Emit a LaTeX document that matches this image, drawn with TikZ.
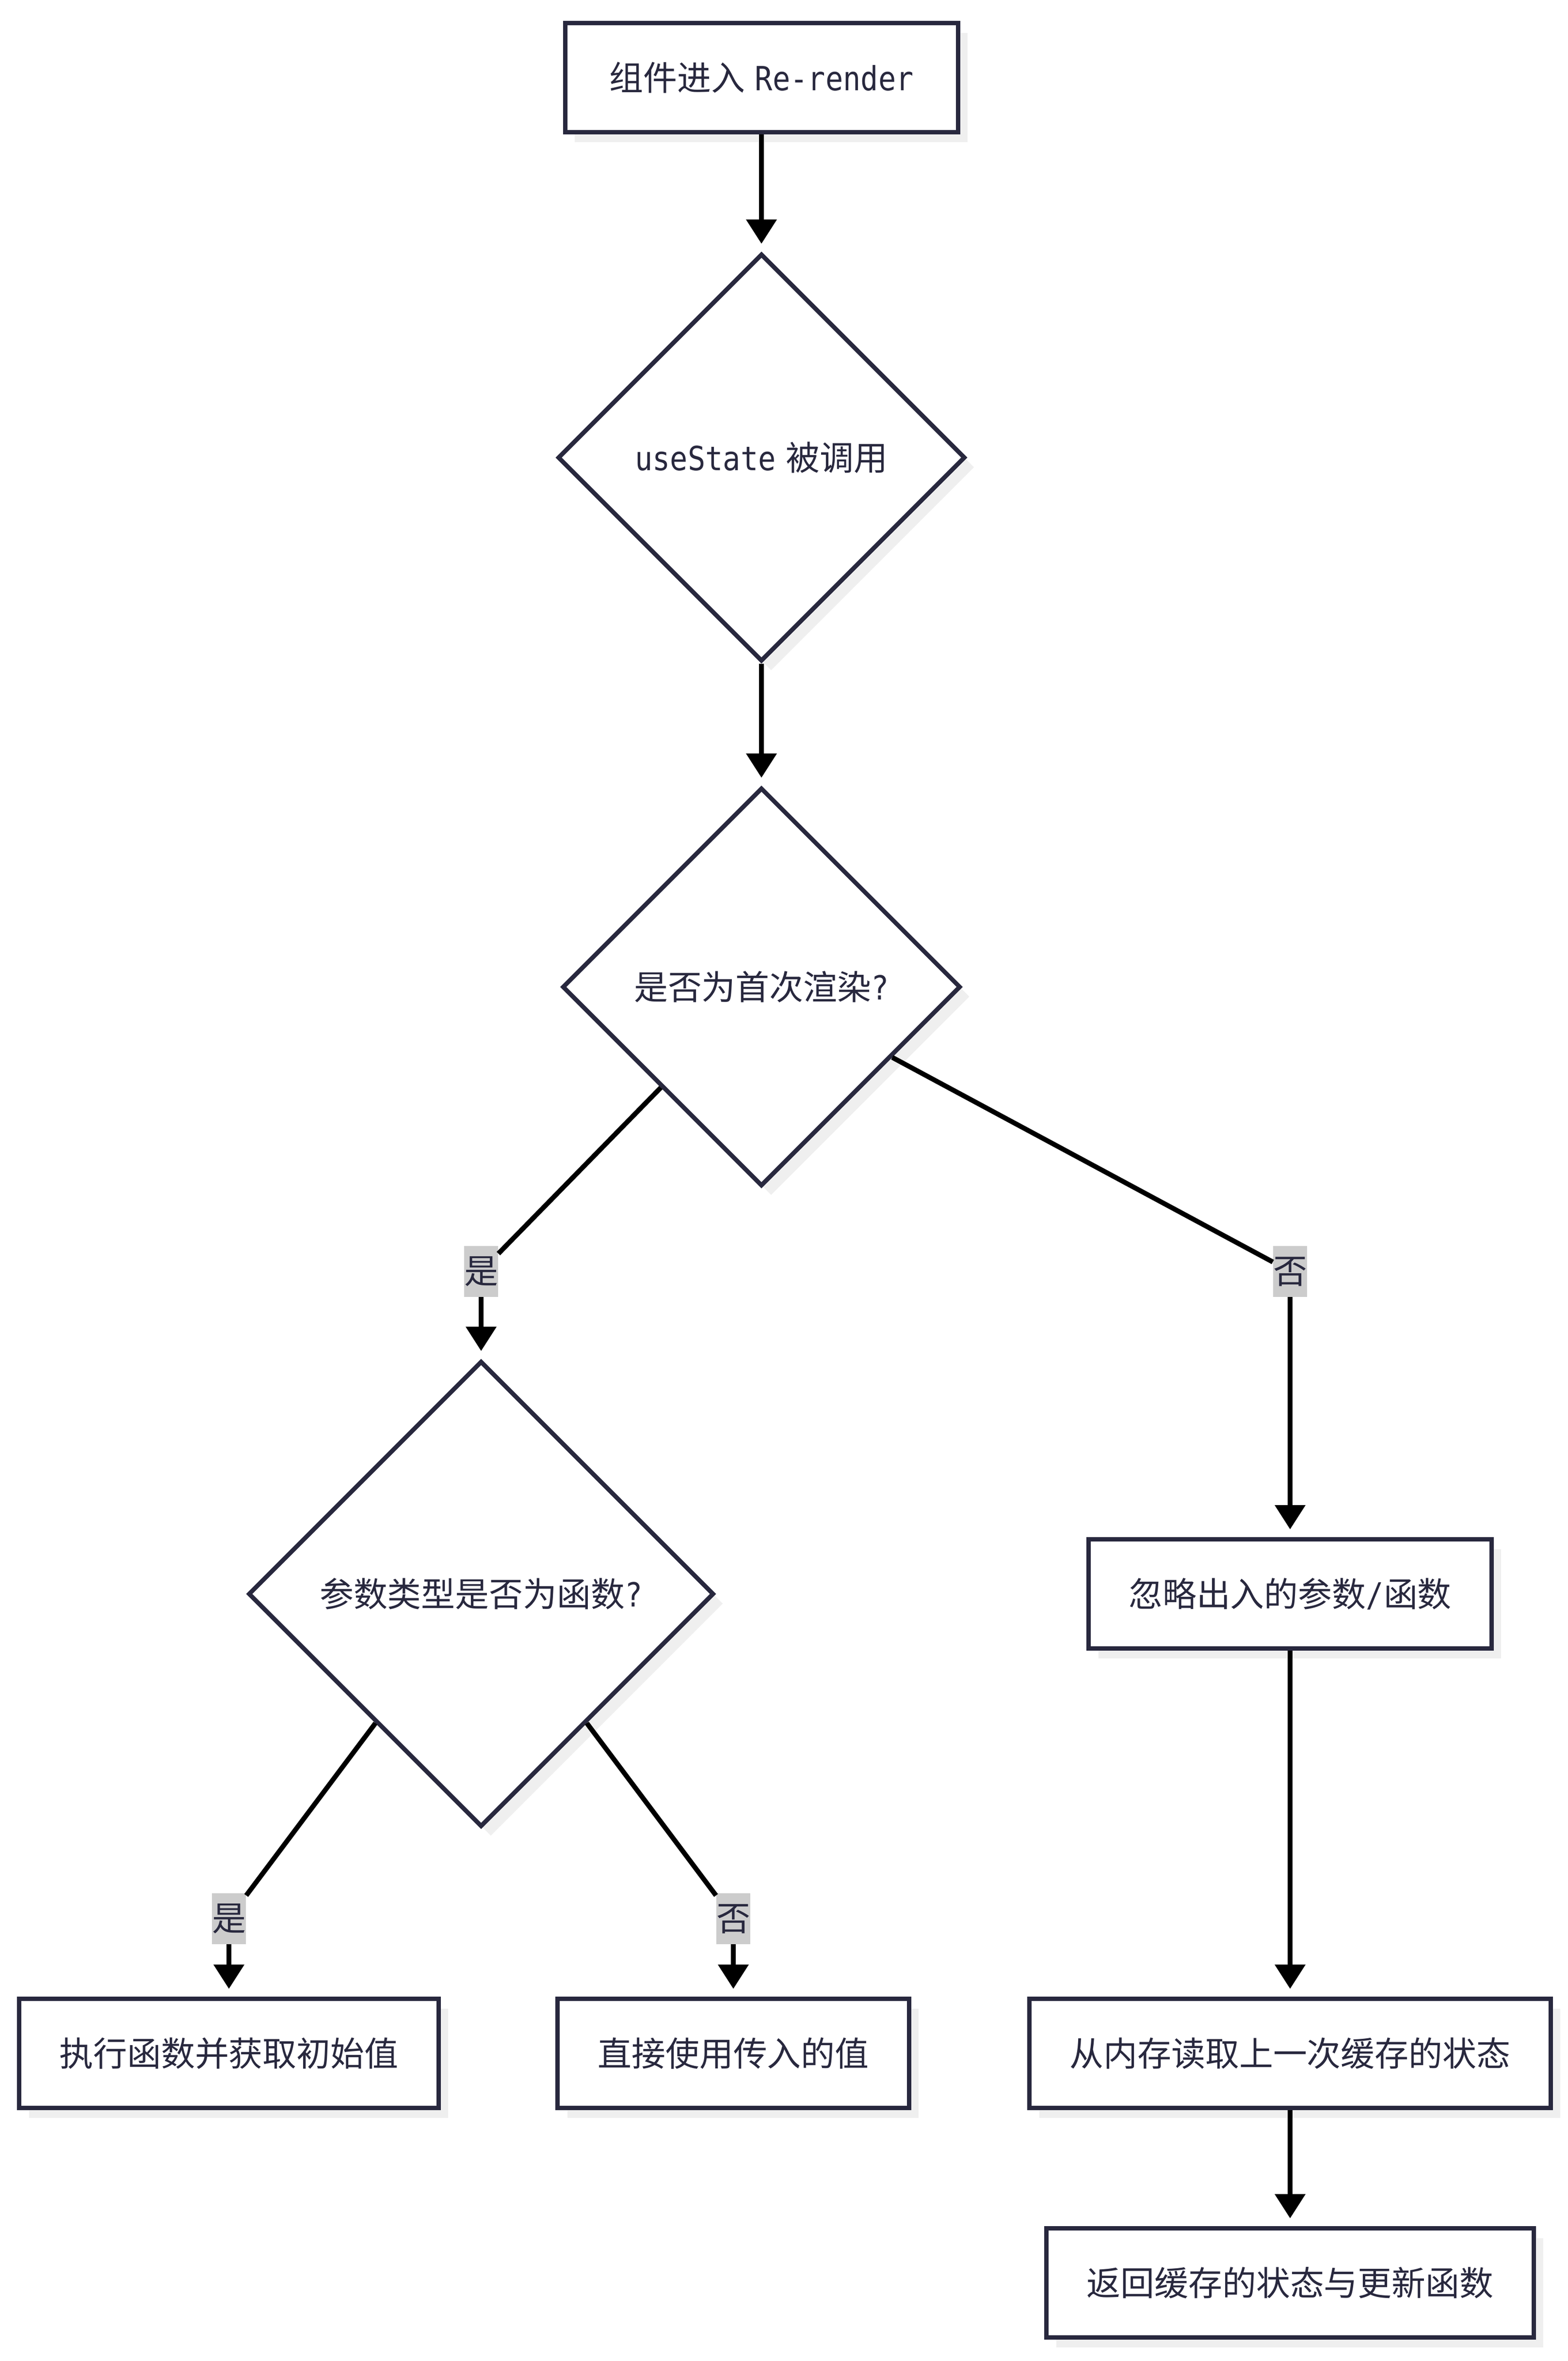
\documentclass[tikz,border=0pt]{standalone}
\usepackage{fontspec}
\setmainfont{Noto Sans CJK SC}
\newfontfamily\lat[Scale=0.98, FakeStretch=0.88]{DejaVu Sans Mono}
\usetikzlibrary{shapes.geometric, arrows.meta, shadows, calc}

\definecolor{ink}{RGB}{40,40,62}
\definecolor{shadowgray}{RGB}{239,239,239}
\definecolor{labelgray}{RGB}{204,204,204}

\begin{document}
\begin{tikzpicture}[
        font=\fontsize{19.9}{24}\selectfont,
        process/.style={rectangle, draw=ink, line width=0.09cm, fill=white, text=ink,
            inner xsep=0.825cm, inner ysep=0pt, minimum height=2.25cm,
            drop shadow={shadow xshift=0.2cm, shadow yshift=-0.2cm, fill=shadowgray, opacity=1}},
        decision/.style={diamond, aspect=1, draw=ink, line width=0.09cm, fill=white, text=ink,
            inner sep=0pt,
            drop shadow={shadow xshift=0.2cm, shadow yshift=-0.2cm, fill=shadowgray, opacity=1}},
        answer/.style={fill=labelgray, text=ink, inner xsep=0pt, inner ysep=0.175cm,
            text height=0.6cm, text depth=0.1cm},
        flow/.style={draw=black, line width=0.1cm},
        arrow/.style={flow, -{Triangle[length=0.5cm, width=0.61cm]}, shorten >=0.16cm}
    ]
                    \path [use as bounding box, fill=white] (0, 0) rectangle (32.33, -48.66);

                    \node (start) at (15.70, -1.60) [process, minimum width=8.1cm] {组件进入\kern0.3em{\lat Re-render}};
                    \node (call) at (15.70, -9.43) [decision, minimum size=8.4cm] {{\lat useState}\kern0.3em被调用};
                    \node (first) at (15.70, -20.34) [decision, minimum size=8.21cm] {是否为首次渲染{\lat ?}};
                    \node (isfunc) at (9.92, -32.85) [decision, minimum size=9.6cm] {参数类型是否为函数{\lat ?}};
                    \node (ignore) at (26.60, -32.85) [process] {忽略出入的参数{\lat /}函数};
                    \node (runfn) at (4.72, -42.32) [process] {执行函数并获取初始值};
                    \node (useval) at (15.12, -42.32) [process] {直接使用传入的值};
                    \node (readmem) at (26.60, -42.32) [process] {从内存读取上一次缓存的状态};
                    \node (retstate) at (26.60, -47.05) [process] {返回缓存的状态与更新函数};

                    \node (yes1) at (9.92, -26.20) [answer] {是};
                    \node (no1) at (26.60, -26.20) [answer] {否};
                    \node (yes2) at (4.72, -39.54) [answer] {是};
                    \node (no2) at (15.12, -39.54) [answer] {否};

                    \draw [arrow] (start) -- (call);
                    \draw [arrow] (call) -- (first);
                    \draw [flow] ($(first.west)!0.5!(first.south)$) -- (yes1);
                    \draw [arrow] (yes1) -- (isfunc);
                    \draw [flow] ($(first.east)!0.35!(first.south)$) -- (no1);
                    \draw [arrow] (no1) -- (ignore);
                    \draw [flow] ($(isfunc.south)!0.45!(isfunc.west)$) -- (yes2);
                    \draw [arrow] (yes2) -- (runfn);
                    \draw [flow] ($(isfunc.south)!0.45!(isfunc.east)$) -- (no2);
                    \draw [arrow] (no2) -- (useval);
                    \draw [arrow] (ignore) -- (readmem);
                    \draw [arrow] (readmem) -- (retstate);
                \end{tikzpicture}
\end{document}
